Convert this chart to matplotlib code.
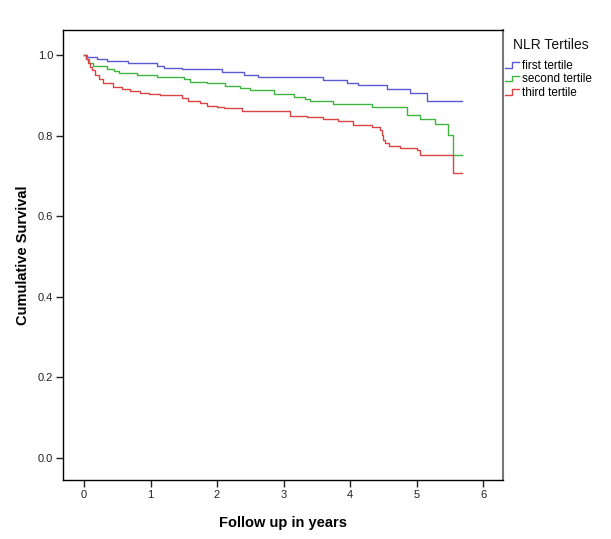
import matplotlib
matplotlib.use("Agg")
import matplotlib.pyplot as plt
from matplotlib.legend_handler import HandlerBase
from matplotlib.lines import Line2D

plt.rcParams['font.family'] = ['Liberation Sans', 'DejaVu Sans']

# ---- data ----
series_names = ["first tertile", "second tertile", "third tertile"]
legend_title = "NLR Tertiles"

first_t = [0, 0.05, 0.2, 0.35, 0.66, 1.1, 1.2, 1.47, 2.07, 2.4, 2.62, 3.6, 3.95, 4.12, 4.56, 4.9, 5.15, 5.69]
first_s = [1.0, 0.995, 0.99, 0.985, 0.979, 0.973, 0.968, 0.964, 0.957, 0.950, 0.945, 0.938, 0.931, 0.925, 0.915, 0.906, 0.886, 0.886]

second_t = [0, 0.03, 0.07, 0.14, 0.34, 0.45, 0.52, 0.8, 1.1, 1.5, 1.6, 1.85, 2.12, 2.35, 2.5, 2.85, 3.15, 3.32, 3.4, 3.75, 4.33, 4.85, 5.05, 5.28, 5.48, 5.55, 5.69]
second_s = [1.0, 0.99, 0.98, 0.973, 0.965, 0.96, 0.955, 0.950, 0.945, 0.940, 0.934, 0.930, 0.924, 0.919, 0.912, 0.903, 0.895, 0.890, 0.885, 0.878, 0.870, 0.851, 0.841, 0.829, 0.801, 0.752, 0.752]

third_t = [0, 0.03, 0.06, 0.09, 0.115, 0.165, 0.22, 0.29, 0.44, 0.57, 0.69, 0.84, 0.97, 1.14, 1.47, 1.57, 1.74, 1.85, 2.0, 2.1, 2.37, 3.1, 3.35, 3.6, 3.82, 4.05, 4.33, 4.45, 4.48, 4.50, 4.53, 4.58, 4.75, 5.0, 5.05, 5.55, 5.69]
third_s = [1.0, 0.99, 0.98, 0.971, 0.963, 0.950, 0.94, 0.930, 0.921, 0.916, 0.911, 0.906, 0.903, 0.901, 0.893, 0.886, 0.880, 0.873, 0.872, 0.868, 0.862, 0.849, 0.845, 0.840, 0.835, 0.826, 0.822, 0.814, 0.801, 0.789, 0.781, 0.774, 0.769, 0.764, 0.752, 0.708, 0.708]

x_ticks = [0, 1, 2, 3, 4, 5, 6]
y_ticks = [0.0, 0.2, 0.4, 0.6, 0.8, 1.0]
colors = ["#5a5ad2", "#3fb53f", "#d84444"]

# ---- figure ----
fig = plt.figure(figsize=(6.11, 5.39), dpi=100)
ax = fig.add_axes([63/611, 1-480/539, 440/611, 450/539])

for t, s, c, name in zip([first_t, second_t, third_t], [first_s, second_s, third_s], colors, series_names):
    ax.step(t, s, where='post', color=c, lw=1.0, label=name)

ax.set_xlim(-0.316, 6.30)
ax.set_ylim(-0.055, 1.062)
ax.set_xticks(x_ticks)
ax.set_xticklabels([str(v) for v in x_ticks])
ax.set_yticks(y_ticks)
ax.set_yticklabels([f"{v:.1f}" for v in y_ticks])
ax.tick_params(direction='out', length=5, width=1, labelsize=8, colors='#222222', pad=2)
for sp in ['left', 'bottom', 'top']:
    ax.spines[sp].set_color('black')
    ax.spines[sp].set_linewidth(1.0)
ax.spines['right'].set_color('#777777')
ax.spines['right'].set_linewidth(1.5)

ax.set_xlabel("Follow up in years", fontsize=10.5, fontweight='bold', labelpad=12)
ax.set_ylabel("Cumulative Survival", fontsize=10.5, fontweight='bold', labelpad=6)


class StepHandler(HandlerBase):
    def create_artists(self, legend, orig_handle, xdescent, ydescent, width, height, fontsize, trans):
        x0 = -xdescent
        y0 = -ydescent
        xs = [x0, x0 + width*0.5, x0 + width*0.5, x0 + width]
        ys = [y0 + height*0.15, y0 + height*0.15, y0 + height*0.8, y0 + height*0.8]
        ln = Line2D(xs, ys, color=orig_handle.get_color(), lw=1.0)
        ln.set_transform(trans)
        return [ln]


fig.text(513/611, 1-45/539, legend_title, fontsize=10, va='center', ha='left', color='#111111')

handles, labels = ax.get_legend_handles_labels()
leg = fig.legend(handles, labels, loc='upper left',
                 bbox_to_anchor=(505/611, 1-60/539), frameon=False,
                 fontsize=8.5, handlelength=1.2, handletextpad=0.25,
                 labelspacing=0.12, borderaxespad=0, borderpad=0,
                 handler_map={Line2D: StepHandler()})

fig.savefig("out.png", dpi=100)
